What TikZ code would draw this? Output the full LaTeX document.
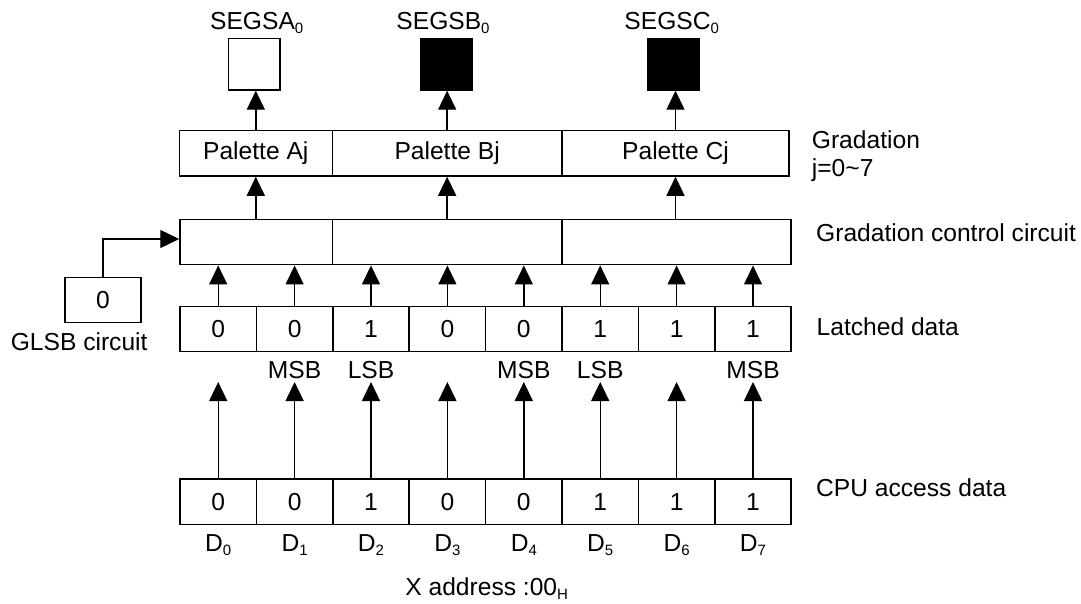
\documentclass[tikz,border=0pt]{standalone}
\usepackage{fontspec}
\setmainfont{Liberation Sans}
\usetikzlibrary{arrows.meta}
\newcommand\lsub[1]{\raisebox{-0.3ex}{\fontsize{15}{15}\selectfont #1}}
\begin{document}
\begin{tikzpicture}[x=1pt,y=-1pt,
  font=\fontsize{24.6}{28}\selectfont,
  box/.style={draw, line width=1.5pt, inner sep=0pt, minimum height=45.4pt},
  cell/.style={box, minimum width=76.4pt},
  arr/.style={-{Triangle[length=19pt,width=18pt]}, line width=1.4pt},
  lab/.style={inner sep=0pt, anchor=base},
  side/.style={inner sep=0pt, anchor=base west}]
\useasboundingbox (0,0) rectangle (1081,603);

% SEG squares
\node[box, minimum width=51.5pt, minimum height=51.5pt] (sqA) at (254.3,64.2) {};
\node[box, minimum width=51.5pt, minimum height=51.5pt, fill=black] (sqB) at (446.5,64.2) {};
\node[box, minimum width=51.5pt, minimum height=51.5pt, fill=black] (sqC) at (673.7,64.2) {};
\node[lab] (tA) at (256.7,29.3) {SEGSA\lsub{0}};
\node[lab] (tB) at (443,29.3) {SEGSB\lsub{0}};
\node[lab] (tC) at (671.7,29.3) {SEGSC\lsub{0}};

% Palette row
\node[box, minimum width=153pt] (palA) at (255.8,153.3) {Palette Aj};
\node[box, minimum width=229.7pt] (palB) at (447.15,153.3) {Palette Bj};
\node[box, minimum width=227pt] (palC) at (675.5,153.3) {Palette Cj};
\node[side] (grad) at (811.7,148.3) {Gradation};
\node[side] (jr) at (811.7,176.7) {j=0\textasciitilde 7};

% Gradation control circuit
\node[box, minimum width=152.6pt] (ctrlA) at (256.3,242) {};
\node[box, minimum width=229.4pt] (ctrlB) at (447.3,242) {};
\node[box, minimum width=229.2pt] (ctrlC) at (676.6,242) {};
\node[side] (gcc) at (816,241.7) {Gradation control circuit};

% arrows to palettes and squares
\foreach \s in {A,B,C}{
  \draw[arr] (ctrl\s.north -| pal\s.north) -- (pal\s.south);
  \draw[arr] (pal\s.north) -- (pal\s.north |- sq\s.south);
}

% GLSB circuit
\node[box, minimum width=76pt] (glsb) at (103,300) {0};
\node[lab] (glsbt) at (79.2,350) {GLSB circuit};
\draw[arr] (glsb.north) |- ([yshift=3pt]ctrlA.west);

% Latched data and CPU access data
\foreach \v [count=\j from 0] in {0,0,1,0,0,1,1,1}{
  \node[cell] (L\j) at (218.2+76.4*\j,329) {\v};
  \node[cell] (C\j) at (218.2+76.4*\j,501.7) {\v};
  \node[lab] (D\j) at (218.2+76.4*\j,551.7) {D\lsub{\j}};
  \coordinate (t\j) at (218.2+76.4*\j,382);
  \draw[arr] (C\j.north) -- (t\j);
}
\foreach \j in {0,...,7}{
  \draw[arr] (L\j.north) -- (L\j.north |- ctrlA.south);
}
\node[side] (ld) at (816.5,335) {Latched data};
\node[side] (cpu) at (816,496.7) {CPU access data};

% MSB / LSB
\foreach \j in {1,4,7}{ \node[lab] (m\j) at (218.2+76.4*\j,378.5) {MSB}; }
\foreach \j in {2,5}{ \node[lab] (l\j) at (218.2+76.4*\j,378.5) {LSB}; }

\node[lab] (xa) at (486.7,595.5) {X address :00\lsub{H}};
\end{tikzpicture}
\end{document}
